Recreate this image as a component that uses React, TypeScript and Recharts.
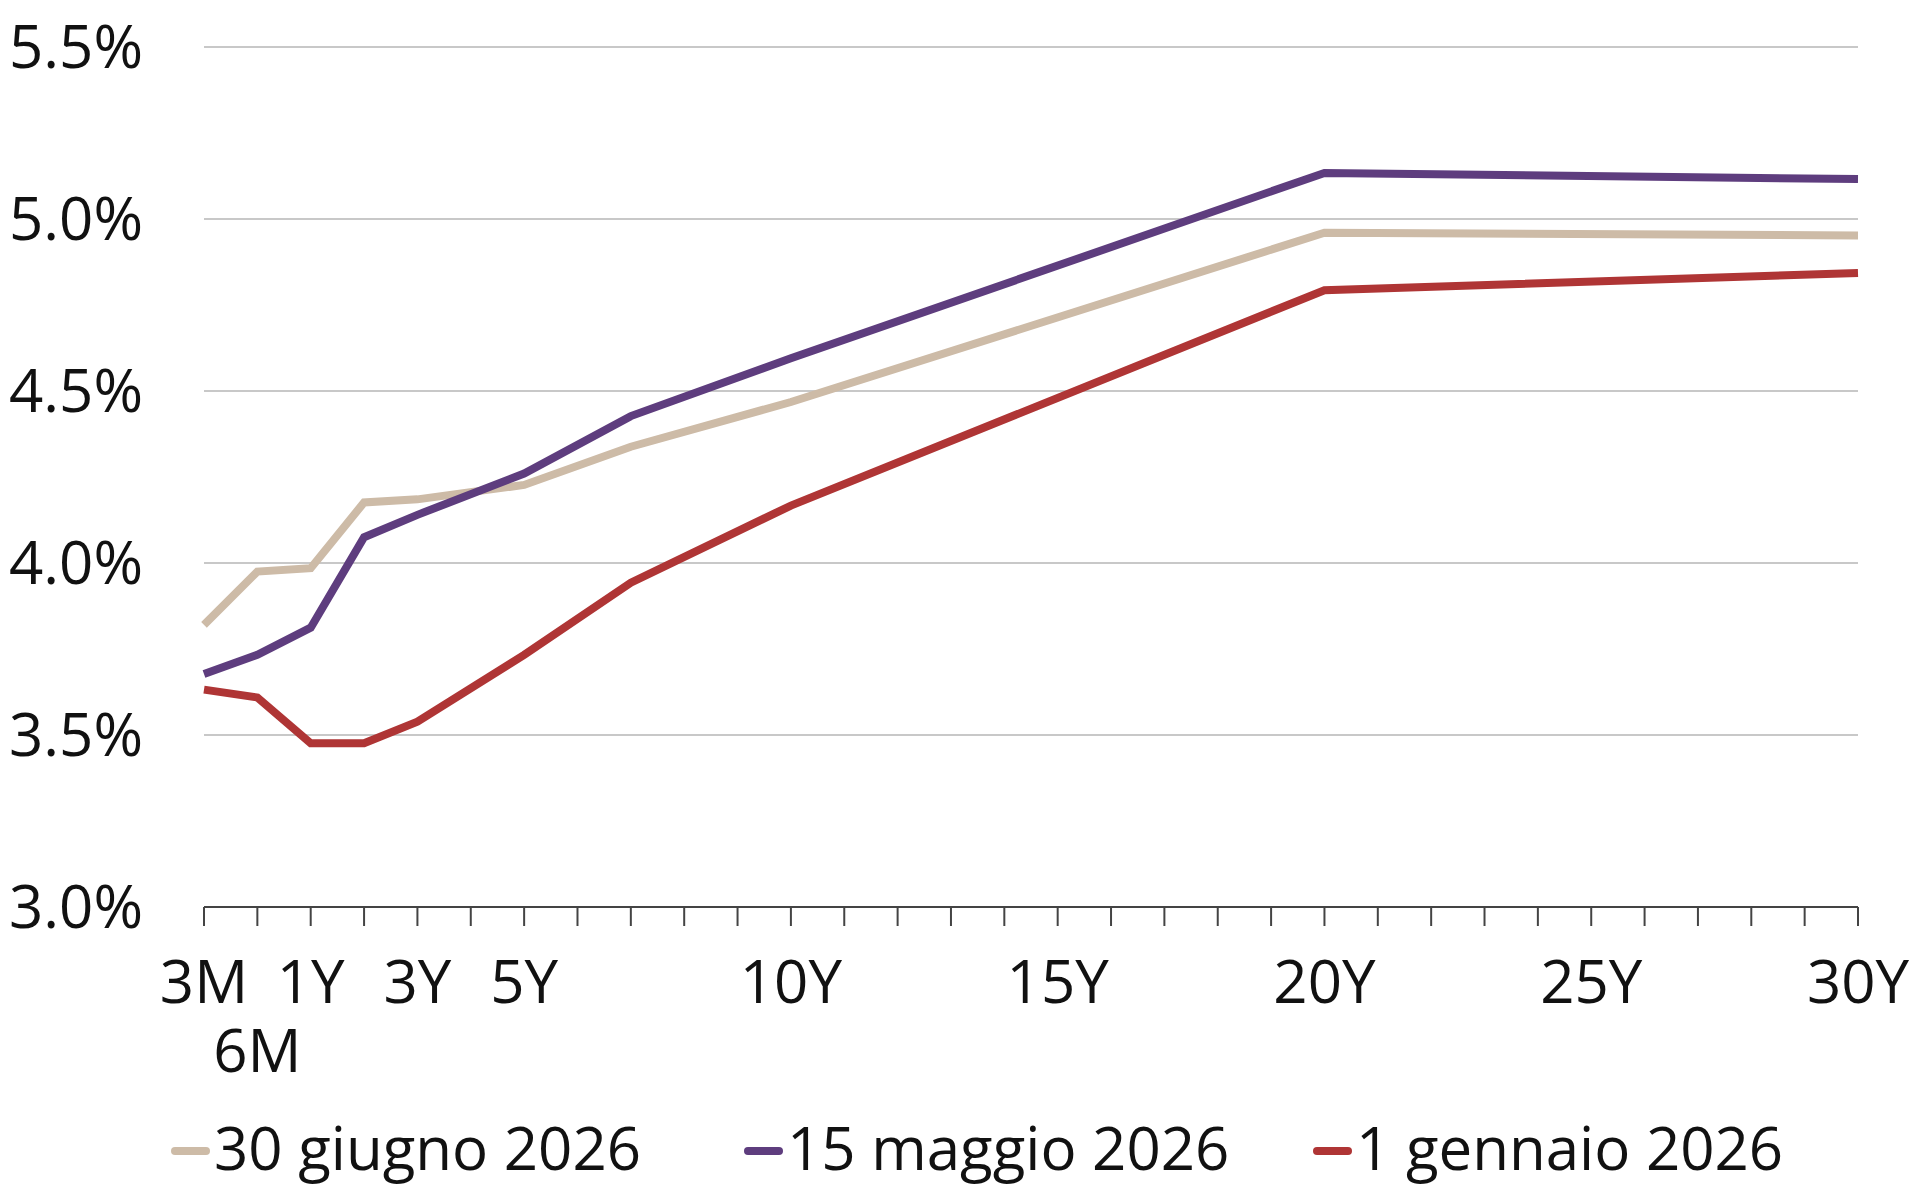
import React from 'react';
import { LineChart, Line, XAxis, YAxis, CartesianGrid, Legend } from 'recharts';

const categories = [
  '3M', '6M', '1Y', '2Y', '3Y', '4Y', '5Y', '6Y', '7Y', '8Y', '9Y', '10Y',
  '11Y', '12Y', '13Y', '14Y', '15Y', '16Y', '17Y', '18Y', '19Y', '20Y',
  '21Y', '22Y', '23Y', '24Y', '25Y', '26Y', '27Y', '28Y', '29Y', '30Y',
];

const knotTenors = ['3M', '6M', '1Y', '2Y', '3Y', '5Y', '7Y', '10Y', '20Y', '30Y'];
const june30 = [3.82, 3.975, 3.985, 4.176, 4.185, 4.227, 4.338, 4.468, 4.96, 4.952];
const may15 = [3.677, 3.733, 3.812, 4.075, 4.14, 4.26, 4.427, 4.595, 5.134, 5.116];
const jan1 = [3.632, 3.609, 3.476, 3.476, 3.539, 3.733, 3.943, 4.167, 4.793, 4.843];

const topRowLabels = ['3M', '1Y', '3Y', '5Y', '10Y', '15Y', '20Y', '25Y', '30Y'];
const bottomRowLabels = ['6M'];
const yTicks = [3.0, 3.5, 4.0, 4.5, 5.0, 5.5];

const series = [
  { key: 'june30', name: '30 giugno 2026', color: '#CDBBA7', values: june30 },
  { key: 'may15', name: '15 maggio 2026', color: '#5E3D7E', values: may15 },
  { key: 'jan1', name: '1 gennaio 2026', color: '#AF3535', values: jan1 },
];

const data = categories.map((t) => {
  const row: Record<string, any> = { t };
  const idx = knotTenors.indexOf(t);
  series.forEach((s) => {
    row[s.key] = idx >= 0 ? s.values[idx] : null;
  });
  return row;
});

const FONT = '"Open Sans", "Noto Sans", sans-serif';
const FONT_SIZE = 60;
const TEXT_COLOR = '#111';

const XTick = (props: any) => {
  const { x, y, payload } = props;
  const v = payload.value;
  if (topRowLabels.includes(v)) {
    return (
      <text x={x} y={y + 77} textAnchor="middle" fontFamily={FONT} fontSize={FONT_SIZE} fill={TEXT_COLOR}>
        {v}
      </text>
    );
  }
  if (bottomRowLabels.includes(v)) {
    return (
      <text x={x} y={y + 146} textAnchor="middle" fontFamily={FONT} fontSize={FONT_SIZE} fill={TEXT_COLOR}>
        {v}
      </text>
    );
  }
  return <g />;
};

const legendStarts = [171, 744, 1313];

const LegendContent = () => (
  <svg width={1920} height={100} style={{ display: 'block' }}>
    {series.map((s, i) => (
      <g key={s.key}>
        <line
          x1={legendStarts[i] + 4}
          x2={legendStarts[i] + 35}
          y1={51}
          y2={51}
          stroke={s.color}
          strokeWidth={8}
          strokeLinecap="round"
        />
        <text
          x={legendStarts[i] + 43}
          y={70}
          fontFamily={FONT}
          fontSize={FONT_SIZE}
          fill={TEXT_COLOR}
        >
          {s.name}
        </text>
      </g>
    ))}
  </svg>
);

export default function App() {
  return (
    <div style={{ position: 'absolute', left: 0, top: 0, width: 1920, height: 1200, background: '#fff' }}>
      <LineChart
        width={1920}
        height={1200}
        data={data}
        margin={{ top: 47, right: 62, left: 0, bottom: 143 }}
      >
        <CartesianGrid vertical={false} stroke="#c8c8c8" strokeWidth={2} />
        <XAxis
          dataKey="t"
          type="category"
          interval={0}
          height={150}
          tickSize={19}
          tickMargin={0}
          axisLine={{ stroke: '#444', strokeWidth: 2 }}
          tickLine={{ stroke: '#444', strokeWidth: 2 }}
          tick={<XTick />}
        />
        <YAxis
          type="number"
          domain={[3, 5.5]}
          ticks={yTicks}
          width={204}
          axisLine={false}
          tickLine={false}
          tickSize={0}
          tickMargin={61}
          tickFormatter={(v: number) => `${v.toFixed(1)}%`}
          tick={{ fontFamily: FONT, fontSize: FONT_SIZE, fill: TEXT_COLOR }}
        />
        <Legend
          layout="horizontal"
          verticalAlign="middle"
          align="center"
          wrapperStyle={{ left: 0, top: 1100, width: 1920, height: 100 }}
          content={<LegendContent />}
        />
        {series.map((s) => (
          <Line
            key={s.key}
            type="linear"
            dataKey={s.key}
            name={s.name}
            stroke={s.color}
            strokeWidth={8}
            dot={false}
            activeDot={false}
            connectNulls
            isAnimationActive={false}
          />
        ))}
      </LineChart>
    </div>
  );
}
